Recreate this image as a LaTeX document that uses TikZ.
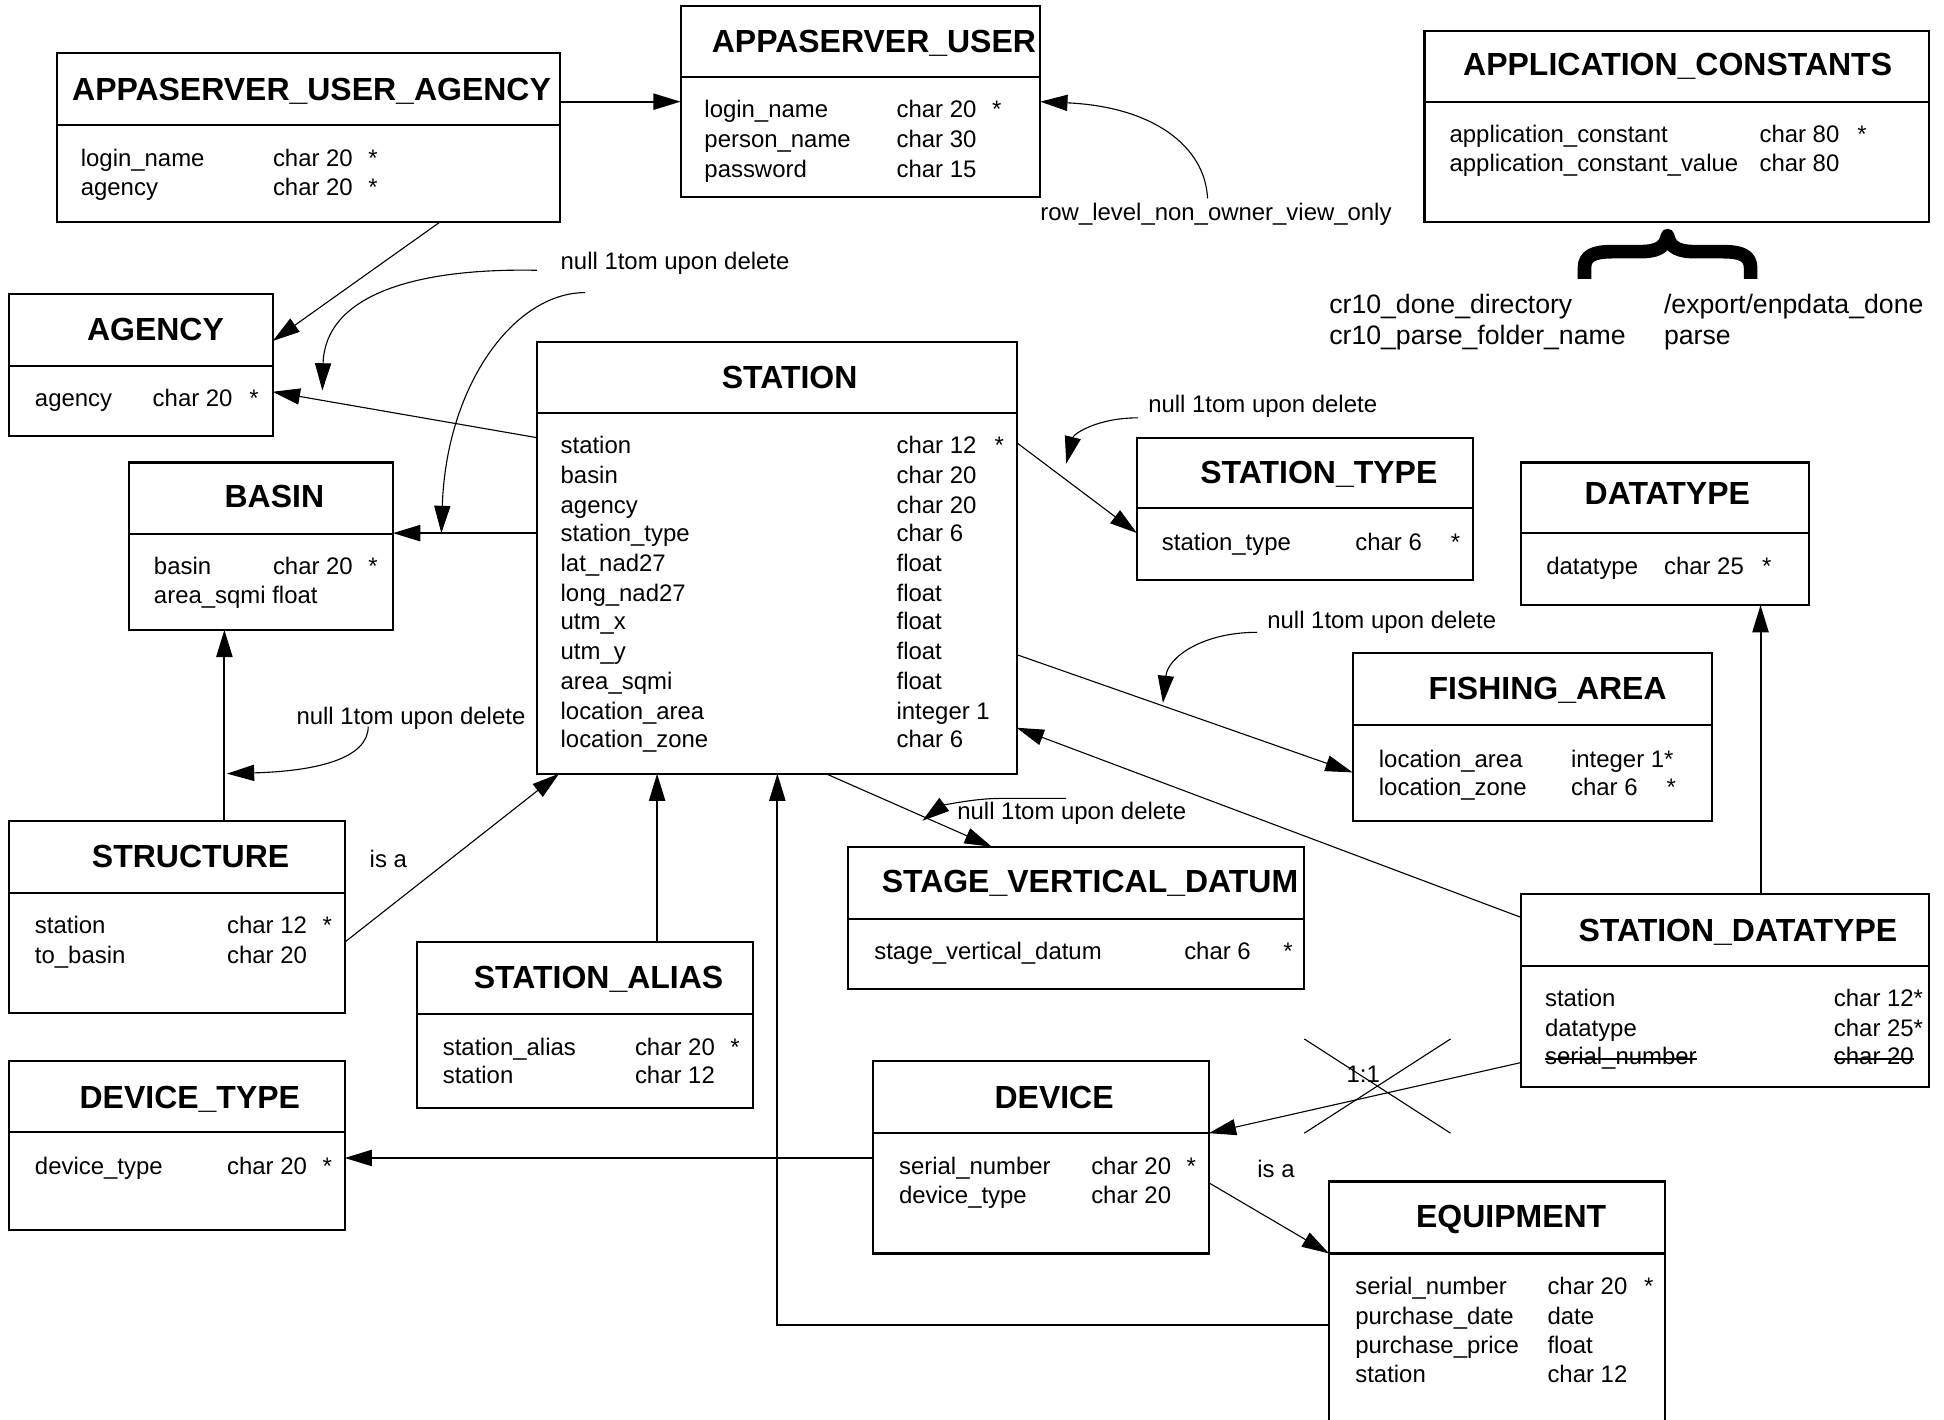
\documentclass[tikz,border=0pt]{standalone}
\usepackage{fontspec}
\setmainfont{Liberation Sans}
\usetikzlibrary{arrows.meta}
\newcommand\fldfont{\fontsize{19.3}{23}\selectfont}
\newcommand\bigfldfont{\fontsize{21.5}{25}\selectfont}
\newcommand\ttlfont{\fontsize{25.8}{30}\selectfont\bfseries}
\newcounter{txn}
\newcommand\tx[3]{\stepcounter{txn}\node[fld] (tx\arabic{txn}) at (#1,{#2+7}) {#3};}
\newcommand\btx[3]{\stepcounter{txn}\node[fld, font=\bigfldfont] (tx\arabic{txn}) at (#1,{#2+8}) {#3};}
\newcommand\ttl[3]{\stepcounter{txn}\node[ttlsty] (tt\arabic{txn}) at (#1,{#2+9}) {#3};}
\newcommand\erbox[6]{%
  \node[ebox, anchor=north west, minimum width={(#4-#2)*1pt}, minimum height={(#5-#3)*1pt}] (#1) at (#2,#3) {};
  \draw[boxline] (#1.west |- 0,#6) -- (#1.east |- 0,#6);}
\begin{document}
\begin{tikzpicture}[x=1pt,y=-1pt,
  ebox/.style={draw, line width=1.7pt, inner sep=0pt, outer sep=0pt},
  boxline/.style={line width=1.7pt},
  fld/.style={font=\fldfont, anchor=base west, inner sep=0pt},
  ttlsty/.style={font=\ttlfont, anchor=base west, inner sep=0pt},
  thk/.style={line width=1.6pt, -{Triangle[length=22pt,width=13pt]}},
  thn/.style={line width=0.9pt, -{Triangle[length=22pt,width=13pt]}},
  plain/.style={line width=0.9pt}]
\useasboundingbox (0,0) rectangle (1568,1145);
\fill[white] (0,0) rectangle (1568,1145);
\clip (0,0) rectangle (1568,1145);

% ---------- boxes ----------
\erbox{aua}{46}{43}{452}{179}{101}
\erbox{au}{549}{5}{839}{159}{62}
\erbox{ac}{1149}{25}{1556}{179}{82}
\erbox{agency}{7}{237}{220}{352}{295}
\erbox{basin}{104}{373}{317}{508}{431}
\erbox{station}{433}{276}{820}{624}{333}
\erbox{structure}{7}{662}{278}{817}{720}
\erbox{salias}{336}{760}{607}{894}{818}
\erbox{dtype}{7}{856}{278}{992}{913}
\erbox{svd}{684}{683}{1052}{798}{741}
\erbox{stype}{917}{353}{1188}{468}{410}
\erbox{datatype}{1227}{373}{1459}{488}{430}
\erbox{fishing}{1091}{527}{1381}{662}{585}
\erbox{sdt}{1227}{721}{1556}{877}{779}
\erbox{device}{704}{856}{975}{1011}{914}
\erbox{equip}{1072}{953}{1343}{1175}{1011}

% ---------- APPASERVER_USER_AGENCY ----------
\ttl{58}{72}{APPASERVER\_USER\_AGENCY}
\tx{65}{127}{login\_name} \tx{220}{127}{char 20} \tx{297}{127}{*}
\tx{65}{151}{agency} \tx{220}{151}{char 20} \tx{297}{151}{*}

% ---------- APPASERVER_USER ----------
\ttl{574}{33}{APPASERVER\_USER}
\tx{568}{88}{login\_name} \tx{723}{88}{char 20} \tx{800}{88}{*}
\tx{568}{112}{person\_name} \tx{723}{112}{char 30}
\tx{568}{136}{password} \tx{723}{136}{char 15}

% ---------- APPLICATION_CONSTANTS ----------
\ttl{1180}{52}{APPLICATION\_CONSTANTS}
\tx{1169}{108}{application\_constant} \tx{1419}{108}{char 80} \tx{1498}{108}{*}
\tx{1169}{131}{application\_constant\_value} \tx{1419}{131}{char 80}
\draw[line width=11pt, line join=round] (1278,225) -- (1278,216)
  .. controls (1278,206) and (1286,203) .. (1300,203) -- (1322,203)
  .. controls (1336,203) and (1343,200) .. (1345,190)
  .. controls (1347,200) and (1354,203) .. (1368,203) -- (1390,203)
  .. controls (1404,203) and (1412,206) .. (1412,216) -- (1412,225);
\btx{1072}{245}{cr10\_done\_directory} \btx{1342}{245}{/export/enpdata\_done}
\btx{1072}{270}{cr10\_parse\_folder\_name} \btx{1342}{270}{parse}

% ---------- AGENCY ----------
\ttl{70}{266}{AGENCY}
\tx{28}{321}{agency} \tx{123}{321}{char 20} \tx{201}{321}{*}

% ---------- BASIN ----------
\ttl{181}{400}{BASIN}
\tx{124}{456}{basin} \tx{220}{456}{char 20} \tx{297}{456}{*}
\tx{124}{480}{area\_sqmi float}

% ---------- STATION ----------
\ttl{582}{304}{STATION}
\tx{452}{359}{station} \tx{723}{359}{char 12} \tx{802}{359}{*}
\tx{452}{383}{basin} \tx{723}{383}{char 20}
\tx{452}{407}{agency} \tx{723}{407}{char 20}
\tx{452}{430}{station\_type} \tx{723}{430}{char 6}
\tx{452}{454}{lat\_nad27} \tx{723}{454}{float}
\tx{452}{478}{long\_nad27} \tx{723}{478}{float}
\tx{452}{501}{utm\_x} \tx{723}{501}{float}
\tx{452}{525}{utm\_y} \tx{723}{525}{float}
\tx{452}{549}{area\_sqmi} \tx{723}{549}{float}
\tx{452}{573}{location\_area} \tx{723}{573}{integer 1}
\tx{452}{596}{location\_zone} \tx{723}{596}{char 6}

% ---------- STRUCTURE ----------
\ttl{74}{691}{STRUCTURE}
\tx{28}{746}{station} \tx{183}{746}{char 12} \tx{260}{746}{*}
\tx{28}{770}{to\_basin} \tx{183}{770}{char 20}

% ---------- STATION_ALIAS ----------
\ttl{382}{788}{STATION\_ALIAS}
\tx{357}{844}{station\_alias} \tx{512}{844}{char 20} \tx{589}{844}{*}
\tx{357}{867}{station} \tx{512}{867}{char 12}

% ---------- DEVICE_TYPE ----------
\ttl{64}{885}{DEVICE\_TYPE}
\tx{28}{940}{device\_type} \tx{183}{940}{char 20} \tx{260}{940}{*}

% ---------- STAGE_VERTICAL_DATUM ----------
\ttl{711}{711}{STAGE\_VERTICAL\_DATUM}
\tx{705}{767}{stage\_vertical\_datum} \tx{955}{767}{char 6} \tx{1035}{767}{*}

% ---------- STATION_TYPE ----------
\ttl{968}{381}{STATION\_TYPE}
\tx{937}{437}{station\_type} \tx{1093}{437}{char 6} \tx{1170}{437}{*}

% ---------- DATATYPE ----------
\ttl{1278}{398}{DATATYPE}
\tx{1247}{456}{datatype} \tx{1342}{456}{char 25} \tx{1421}{456}{*}

% ---------- FISHING_AREA ----------
\ttl{1152}{555}{FISHING\_AREA}
\tx{1112}{612}{location\_area} \tx{1267}{612}{integer 1*}
\tx{1112}{635}{location\_zone} \tx{1267}{635}{char 6} \tx{1344}{635}{*}

% ---------- STATION_DATATYPE ----------
\ttl{1273}{750}{STATION\_DATATYPE}
\tx{1246}{805}{station} \tx{1479}{805}{char 12*}
\tx{1246}{829}{datatype} \tx{1479}{829}{char 25*}
\node[fld] (snum) at (1246,859) {serial\_number};
\node[fld] (schar) at (1479,859) {char 20};
\draw[line width=1.2pt] ([yshift=5pt]snum.base west) -- ([yshift=5pt]snum.base east);
\draw[line width=1.2pt] ([yshift=5pt]schar.base west) -- ([yshift=5pt]schar.base east);

% ---------- DEVICE ----------
\ttl{802}{885}{DEVICE}
\tx{725}{940}{serial\_number} \tx{880}{940}{char 20} \tx{957}{940}{*}
\tx{725}{964}{device\_type} \tx{880}{964}{char 20}

% ---------- EQUIPMENT ----------
\ttl{1142}{981}{EQUIPMENT}
\tx{1093}{1037}{serial\_number} \tx{1248}{1037}{char 20} \tx{1326}{1037}{*}
\tx{1093}{1061}{purchase\_date} \tx{1248}{1061}{date}
\tx{1093}{1085}{purchase\_price} \tx{1248}{1085}{float}
\tx{1093}{1108}{station} \tx{1248}{1108}{char 12}

% ---------- labels ----------
\node[fld] (rl) at (839,178) {row\_level\_non\_owner\_view\_only};
\node[fld] (n1) at (452,217) {null 1tom upon delete};
\node[fld] (n2) at (926,333) {null 1tom upon delete};
\node[fld] (n3) at (1022,507) {null 1tom upon delete};
\node[fld] (n4) at (239,584) {null 1tom upon delete};
\node[fld] (n5) at (772,661) {null 1tom upon delete};
\node[fld] (isa1) at (298,700) {is a};
\node[fld] (isa2) at (1014,950) {is a};
\node[fld] (one) at (1086,873) {1:1};

% ---------- connectors ----------
\draw[thk] (aua.east |- 0,82) -- (au.west |- 0,82);
\coordinate (rls) at (974,160);
\draw[thn] (rls) .. controls (972,118) and (930,86) .. (au.east |- 0,82);
\draw[thn] (aua.south -| 355,0) -- (agency.east |- 0,275);
\coordinate (c1s) at (433,218); \coordinate (c1e) at (260,315);
\draw[thn] (c1s) .. controls (330,216) and (262,240) .. (c1e);
\coordinate (c2s) at (472,236); \coordinate (c2e) at (356,430);
\draw[thn] (c2s) .. controls (415,236) and (360,310) .. (c2e);
\draw[thn] (station.west |- 0,353) -- (agency.east |- 0,316);
\draw[thk] (station.west |- 0,430) -- (basin.east |- 0,430);
\draw[thk] (structure.north -| 181,0) -- (basin.south -| 181,0);
\coordinate (c4s) at (297,586); \coordinate (c4e) at (183,624);
\draw[thn] (c4s) .. controls (297,612) and (255,622) .. (c4e);
\draw[thn] (structure.east |- 0,760) -- (station.south -| 451,0);
\draw[thk] (salias.north -| 530,0) -- (station.south -| 530,0);
\draw[thk] (equip.west |- 0,1069) -| (station.south -| 627,0);
\draw[thk] (device.west |- 0,934) -- (dtype.east |- 0,934);
\draw[thn] (station.south -| 666,0) -- (svd.north -| 800,0);
\coordinate (c5s) at (860,644); \coordinate (c5e) at (744,662);
\draw[thn] (c5s) -- (806,644) .. controls (785,644) and (760,650) .. (c5e);
\draw[thn] (station.east |- 0,357) -- (stype.west |- 0,430);
\coordinate (c2as) at (918,337); \coordinate (c2ae) at (860,374);
\draw[thn] (c2as) .. controls (885,337) and (866,350) .. (c2ae);
\draw[thn] (station.east |- 0,528) -- (fishing.west |- 0,623);
\coordinate (c3s) at (1014,510); \coordinate (c3e) at (938,567);
\draw[thn] (c3s) .. controls (970,510) and (942,530) .. (c3e);
\draw[thn] (sdt.west |- 0,740) -- (station.east |- 0,587);
\draw[thk] (sdt.north -| 1420,0) -- (datatype.south -| 1420,0);
\draw[thn] (sdt.west |- 0,857) -- (device.east |- 0,914);
\draw[plain] (1052,838) -- (1170,914);
\draw[plain] (1170,838) -- (1052,914);
\draw[thn] (device.east |- 0,954) -- (equip.west |- 0,1011);
\end{tikzpicture}
\end{document}
